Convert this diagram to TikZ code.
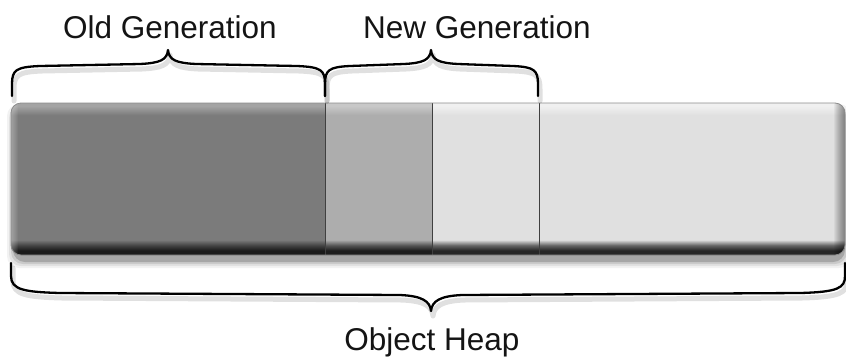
\documentclass[tikz,border=0pt]{standalone}
\usepackage{fontspec}
\setmainfont{Liberation Sans}
\definecolor{txt}{HTML}{141414}
\definecolor{olds}{HTML}{7B7B7B}
\definecolor{oldb}{HTML}{1A1A1A}
\definecolor{oldd}{HTML}{444444}
\definecolor{oldt}{HTML}{A4A4A4}
\definecolor{news}{HTML}{ADADAD}
\definecolor{newb}{HTML}{1E1E1E}
\definecolor{newd}{HTML}{555555}
\definecolor{newt}{HTML}{C8C8C8}
\definecolor{frees}{HTML}{E0E0E0}
\definecolor{freeb}{HTML}{262626}
\definecolor{freed}{HTML}{666666}
\definecolor{freet}{HTML}{F0F0F0}
\pgfdeclareverticalshading{oldshade}{100bp}{color(0bp)=(oldb); color(25bp)=(oldb); color(26.5bp)=(oldb); color(28.2bp)=(oldd); color(30bp)=(olds); color(71bp)=(olds); color(74bp)=(oldt); color(75bp)=(oldt); color(100bp)=(oldt)}
\pgfdeclareverticalshading{newshade}{100bp}{color(0bp)=(newb); color(25bp)=(newb); color(26.5bp)=(newb); color(28.2bp)=(newd); color(30bp)=(news); color(71bp)=(news); color(74bp)=(newt); color(75bp)=(newt); color(100bp)=(newt)}
\pgfdeclareverticalshading{freeshade}{100bp}{color(0bp)=(freeb); color(25bp)=(freeb); color(26.5bp)=(freeb); color(28.2bp)=(freed); color(30bp)=(frees); color(71bp)=(frees); color(74bp)=(freet); color(75bp)=(freet); color(100bp)=(freet)}
\newcommand\allbraces[1]{%
  \draw[#1] (12,96) -- (12,84) .. controls (12,70) and (16,67) .. (40,66) -- (140,64)
    .. controls (160,63) and (167,60) .. (168,50)
    .. controls (169,60) and (176,63) .. (196,64) -- (297,66)
    .. controls (321,67) and (325,70) .. (325,84) -- (325,96);
  \draw[#1] (325,96) -- (325,84) .. controls (325,70) and (329,67) .. (350,66) -- (404,64)
    .. controls (423,63) and (430,60) .. (431,50)
    .. controls (432,60) and (439,63) .. (458,64) -- (513,66)
    .. controls (534,67) and (538,70) .. (538,84) -- (538,96);
  \draw[#1] (11,263) -- (11,276) .. controls (11,290) and (25,292) .. (60,293) -- (400,295)
    .. controls (422,296) and (430,301) .. (431,311)
    .. controls (432,301) and (440,296) .. (462,295) -- (800,293)
    .. controls (838,292) and (845,288) .. (845,276) -- (845,263);
}
\begin{document}
\begin{tikzpicture}[x=1bp,y=-1bp,
  lbl/.style={font=\fontsize{31.5bp}{36bp}\selectfont, text=txt, anchor=base, inner sep=0pt},
  bracepath/.style={line width=2.3bp, draw=black, line cap=round, line join=round},
  braceshadow/.style={line width=5bp, draw=black, opacity=0.12, line cap=round, line join=round},
  barshape/.style={rounded corners=10bp},
  divider/.style={line width=1bp, draw=black!75},
]
\useasboundingbox (0,0) rectangle (846,358);
% drop shadow of the bar
\foreach \i/\o in {0/0.18,2/0.10,4/0.07,6/0.05}{
  \fill[black, opacity=\o, rounded corners=12bp] (13-\i,110-\i) rectangle (845+\i,262+\i);
}
% bar sections
\begin{scope}
  \clip[barshape] (11,103) rectangle (845,255);
  \shade[shading=oldshade] (11,103) rectangle (325,255);
  \shade[shading=newshade] (325,103) rectangle (432,255);
  \shade[shading=freeshade] (432,103) rectangle (845,255);
  \foreach \i in {0,1,...,11}{
    \fill[black, opacity=0.045] (834+\i,103) rectangle (846,255);
  }
  \foreach \i in {0,1,...,6}{
    \fill[white, opacity=0.05] (11,103) rectangle (18-\i,255);
  }
\end{scope}
\draw[divider] (325,103) -- (325,255);
\draw[divider] (432,103) -- (432,255);
\draw[divider] (539,103) -- (539,255);
\draw[barshape, draw=black!45, line width=0.8bp] (11,103) rectangle (845,255);
% braces
\begin{scope}[shift={(2,5)}]
  \allbraces{braceshadow}
\end{scope}
\allbraces{bracepath}
% labels
\node[lbl] (oldlbl) at (170,38) {Old Generation};
\node[lbl] (newlbl) at (477,38) {New Generation};
\node[lbl] (heaplbl) at (432,350) {Object Heap};
\end{tikzpicture}
\end{document}
